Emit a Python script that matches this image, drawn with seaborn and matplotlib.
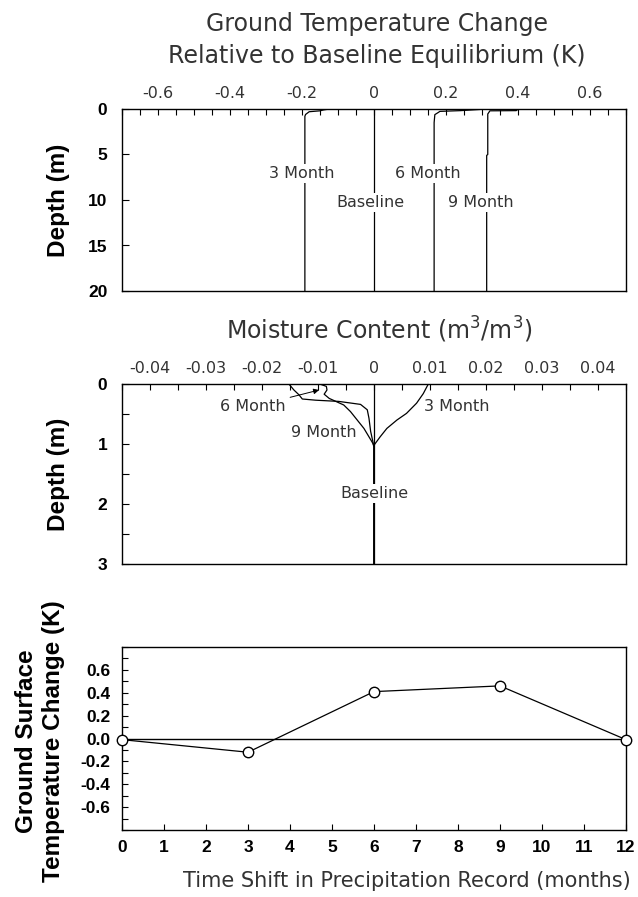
import matplotlib
matplotlib.use('Agg')
import matplotlib.pyplot as plt
from matplotlib.ticker import MultipleLocator
import seaborn as sns

# --- top panel: ground temperature change (K) vs depth (m)
temp_base_depth = [0.0, 20.0]
temp_base_val = [0.0, 0.0]
temp_3m_depth = [0.02, 0.1, 0.2, 0.3, 0.6, 0.8, 20.0]
temp_3m_val = [-0.127, -0.14, -0.15, -0.18, -0.19, -0.192, -0.192]
temp_6m_depth = [0.05, 0.18, 0.26, 0.37, 0.62, 1.5, 20.0]
temp_6m_val = [0.294, 0.24, 0.183, 0.179, 0.169, 0.167, 0.167]
temp_9m_depth = [0.02, 0.03, 0.18, 0.2, 0.55, 5.0, 5.1, 20.0]
temp_9m_val = [0.452, 0.40, 0.395, 0.322, 0.316, 0.316, 0.313, 0.313]

# --- middle panel: moisture content change (m3/m3) vs depth (m)
moist_base_depth = [0.0, 3.0]
moist_base_val = [0.0, 0.0]
moist_3m_depth = [0.0, 0.16, 0.32, 0.49, 0.6, 0.74, 0.88, 1.02, 3.0]
moist_3m_val = [0.0097, 0.0088, 0.0076, 0.0058, 0.0041, 0.0023, 0.0011, 0.0, 0.0]
moist_6m_depth = [0.0, 0.04, 0.1, 0.17, 0.24, 0.35, 0.46, 0.6, 0.74, 0.88, 0.99, 1.05, 3.0]
moist_6m_val = [-0.0097, -0.0085, -0.0084, -0.0089, -0.0080, -0.0054, -0.0042,
                -0.0030, -0.0018, -0.0009, -0.0002, 0.0, 0.0]
moist_9m_depth = [0.0, 0.1, 0.18, 0.25, 0.27, 0.29, 0.34, 0.43, 0.57, 0.79, 0.96, 1.05, 3.0]
moist_9m_val = [-0.0152, -0.0143, -0.0134, -0.0128, -0.0104, -0.0063, -0.0024,
                -0.0012, -0.0009, -0.0006, -0.0002, 0.0, 0.0]

# --- bottom panel: ground surface temperature change vs time shift
shift_months = [0, 3, 6, 9, 12]
surface_dT = [-0.01, -0.12, 0.41, 0.46, -0.01]

# tick labels
temp_ticks = [-0.6, -0.4, -0.2, 0, 0.2, 0.4, 0.6]
temp_ticklabels = ['-0.6', '-0.4', '-0.2', '0', '0.2', '0.4', '0.6']
moist_ticks = [-0.04, -0.03, -0.02, -0.01, 0, 0.01, 0.02, 0.03, 0.04]
moist_ticklabels = ['-0.04', '-0.03', '-0.02', '-0.01', '0', '0.01', '0.02', '0.03', '0.04']
dT_ticks = [-0.6, -0.4, -0.2, 0.0, 0.2, 0.4, 0.6]
dT_ticklabels = ['-0.6', '-0.4', '-0.2', '0.0', '0.2', '0.4', '0.6']

sns.set_theme(style='ticks')
plt.rcParams['font.family'] = ['DejaVu Sans']
plt.rcParams['axes.unicode_minus'] = False
plt.rcParams['axes.edgecolor'] = 'black'
plt.rcParams['axes.linewidth'] = 1.0
plt.rcParams['xtick.color'] = 'black'
plt.rcParams['ytick.color'] = 'black'

W, H = 638, 897
GREY = '#333333'
BOLD = dict(family=['Liberation Sans', 'DejaVu Sans'], weight='bold')


def box(left, top, right, bottom):
    return [left / W, 1 - bottom / H, (right - left) / W, (bottom - top) / H]


fig = plt.figure(figsize=(W / 100, H / 100), dpi=100)
ax1 = fig.add_axes(box(122, 109, 626, 291))
ax2 = fig.add_axes(box(122, 384, 626, 564))
ax3 = fig.add_axes(box(122, 647, 626, 830))

line_kw = dict(color='black', lw=0.9, sort=False, estimator=None)

# top panel
for d, v in [(temp_base_depth, temp_base_val), (temp_3m_depth, temp_3m_val),
             (temp_6m_depth, temp_6m_val), (temp_9m_depth, temp_9m_val)]:
    sns.lineplot(x=v, y=d, ax=ax1, **line_kw)
ax1.set_xlim(-0.7, 0.7)
ax1.set_ylim(20, 0)
ax1.set_xticks(temp_ticks)
ax1.set_xticklabels(temp_ticklabels)
ax1.xaxis.set_minor_locator(MultipleLocator(0.05))
ax1.set_yticks([0, 5, 10, 15, 20])

# middle panel
for d, v in [(moist_base_depth, moist_base_val), (moist_3m_depth, moist_3m_val),
             (moist_6m_depth, moist_6m_val), (moist_9m_depth, moist_9m_val)]:
    sns.lineplot(x=v, y=d, ax=ax2, **line_kw)
ax2.set_xlim(-0.045, 0.045)
ax2.set_ylim(3, 0)
ax2.set_xticks(moist_ticks)
ax2.set_xticklabels(moist_ticklabels)
ax2.xaxis.set_minor_locator(MultipleLocator(0.005))
ax2.set_yticks([0, 1, 2, 3])
ax2.yaxis.set_minor_locator(MultipleLocator(0.5))

for ax in (ax1, ax2):
    ax.set_xlabel('')
    ax.set_ylabel('')
    ax.xaxis.tick_top()
    ax.tick_params(axis='x', which='both', direction='in', top=True, bottom=False,
                   length=4, width=0.8, pad=5.5, labelsize=11.5, labelcolor=GREY)
    ax.tick_params(axis='y', which='both', direction='in', left=True, right=False,
                   length=5, width=0.8, pad=10.5, labelcolor='black')
    for lab in ax.get_yticklabels():
        lab.set_fontproperties(dict(BOLD, size=12.5))

# profile labels
lab_kw = dict(fontsize=11.5, color=GREY, ha='center', va='center',
              bbox=dict(facecolor='white', edgecolor='none', pad=1.5))
ax1.text(-0.201, 7.1, '3 Month', **lab_kw)
ax1.text(0.149, 7.1, '6 Month', **lab_kw)
ax1.text(-0.009, 10.3, 'Baseline', **lab_kw)
ax1.text(0.296, 10.3, '9 Month', **lab_kw)

ax2.text(0.0089, 0.38, '3 Month', fontsize=11.5, color=GREY, ha='left', va='center')
ax2.text(-0.0031, 0.81, '9 Month', fontsize=11.5, color=GREY, ha='right', va='center')
ax2.text(0, 1.82, 'Baseline', **lab_kw)
ax2.annotate('6 Month', xy=(-0.0098, 0.1), xytext=(-0.0158, 0.38),
             fontsize=11.5, color=GREY, ha='right', va='center',
             arrowprops=dict(arrowstyle='-|>', color='black', lw=0.7,
                             shrinkA=1, shrinkB=0, mutation_scale=8))

# bottom panel
ax3.axhline(0, color='black', lw=1.0, zorder=1.5)
sns.lineplot(x=shift_months, y=surface_dT, ax=ax3, color='black', lw=0.9,
             marker='o', markersize=7.5, markerfacecolor='white',
             markeredgecolor='black', markeredgewidth=1.0, clip_on=False, zorder=3)
ax3.set_xlim(0, 12)
ax3.set_ylim(-0.8, 0.8)
ax3.set_xticks(range(0, 13))
ax3.set_yticks(dT_ticks)
ax3.set_yticklabels(dT_ticklabels)
ax3.yaxis.set_minor_locator(MultipleLocator(0.1))
ax3.set_xlabel('')
ax3.set_ylabel('')
ax3.tick_params(axis='x', which='both', direction='in', bottom=True, top=False,
                length=4, width=0.8, pad=7, labelcolor='black')
ax3.tick_params(axis='y', which='both', direction='in', left=True, right=False,
                length=4, width=0.8, pad=8.5, labelcolor='black')
for lab in ax3.get_xticklabels() + ax3.get_yticklabels():
    lab.set_fontproperties(dict(BOLD, size=12.5))

for ax in (ax1, ax2, ax3):
    for sp in ax.spines.values():
        sp.set_visible(True)
        sp.set_color('black')
        sp.set_linewidth(1.0)

# titles and axis labels
fig.text(377 / W, 1 - 24 / H, 'Ground Temperature Change', ha='center', va='center',
         fontsize=17, color=GREY)
fig.text(377 / W, 1 - 55.5 / H, 'Relative to Baseline Equilibrium (K)', ha='center',
         va='center', fontsize=17, color=GREY)
fig.text(379 / W, 1 - 329.5 / H, r'Moisture Content (m$^3$/m$^3$)', ha='center',
         va='center', fontsize=17, color=GREY)
fig.text(631 / W, 1 - 881 / H, 'Time Shift in Precipitation Record (months)',
         ha='right', va='center', fontsize=15, color=GREY)

fig.text(58 / W, 1 - 200 / H, 'Depth (m)', rotation=90, ha='center', va='center',
         fontsize=17.5, color='black', **BOLD)
fig.text(58 / W, 1 - 474 / H, 'Depth (m)', rotation=90, ha='center', va='center',
         fontsize=17.5, color='black', **BOLD)
fig.text(40 / W, 1 - 741 / H, 'Ground Surface\nTemperature Change (K)', rotation=90,
         ha='center', va='center', multialignment='center', linespacing=1.2,
         fontsize=17.5, color='black', **BOLD)

fig.savefig('out.png', dpi=100)
